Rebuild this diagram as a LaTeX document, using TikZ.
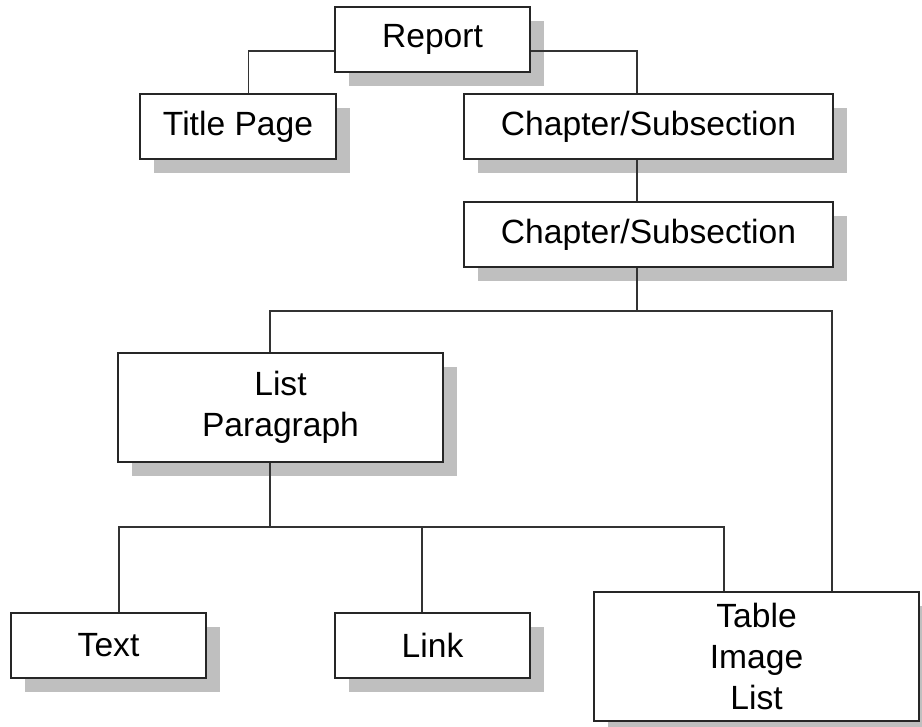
\documentclass[tikz,border=0pt]{standalone}
\usepackage{fontspec}
\setmainfont{Liberation Sans}
\usetikzlibrary{shadows}
\begin{document}
\begin{tikzpicture}[x=0.5pt, y=-0.5pt, line width=0.8pt]
    \tikzstyle{box}=[draw=black!85, line width=1pt, fill=white, minimum height=32.5pt, align=center, inner sep=0pt, font=\fontsize{16.8}{20.5}\selectfont, drop shadow={shadow xshift=7pt, shadow yshift=-7pt, fill=black!25, opacity=1}]
    \tikzstyle{link}=[draw=black!80, line width=0.8pt]
    \useasboundingbox[fill=white] (0,0) rectangle (922,727);
    \node[box, minimum width=97.5pt] (report) at (432.5,39.5) {Report};
    \node[box, minimum width=98pt] (title) at (238,126.5) {Title Page};
    \node[box, minimum width=184.5pt] (chap) at (648.5,126.5) {Chapter/Subsection};
    \node[box, minimum width=184.5pt] (sub) at (648.5,234.5) {Chapter/Subsection};
    \node[box, minimum width=162.5pt, minimum height=54.5pt] (para) at (280.5,407.5) {List\\Paragraph};
    \node[box, minimum width=97.5pt] (text) at (108.5,645.5) {Text};
    \node[box, minimum width=97.5pt] (lnk) at (432.5,645.5) {Link};
    \node[box, minimum width=162.5pt, minimum height=64.5pt] (table) at (756.5,656.5) {Table\\Image\\List};
    \coordinate (j1) at (637,311);
    \coordinate (j2) at (270,527);
    % tree links
    \draw[link] ([yshift=-5.75pt]report.west) -| ([xshift=5.25pt]title.north);
    \draw[link] ([yshift=-5.75pt]report.east) -| ([xshift=-5.75pt]chap.north);
    \draw[link] ([xshift=-5.75pt]chap.south) -- ([xshift=-5.75pt]sub.north);
    \draw[link] ([xshift=-5.75pt]sub.south) -- (j1);
    \draw[link] ([xshift=-5.25pt]para.north) |- (j1) -| ([xshift=37.75pt]table.north);
    \draw[link] ([xshift=-5.25pt]para.south) -- (j2);
    \draw[link] ([xshift=5.25pt]text.north) |- (j2) -| ([xshift=-16.25pt]table.north);
    \draw[link] ([xshift=-5.25pt]lnk.north) -- ([xshift=-5.25pt]lnk.north |- j2);
\end{tikzpicture}
\end{document}
